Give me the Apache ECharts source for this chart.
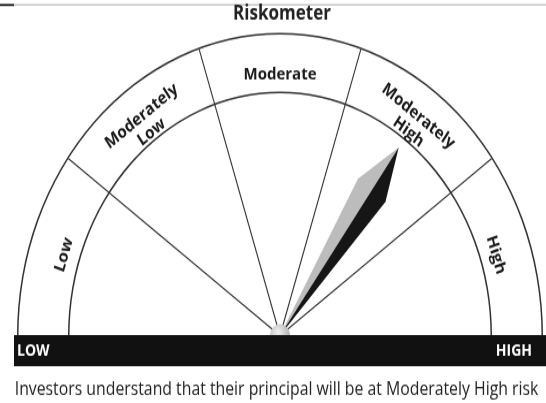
<!DOCTYPE html>
<html>
<head>
<meta charset="utf-8">
<script src="https://cdn.jsdelivr.net/npm/echarts@6/dist/echarts.min.js"></script>
<style>
  html, body { margin: 0; padding: 0; background: #fff; overflow: hidden; }
  /* the source picture is stretched vertically, so draw flat and stretch */
  #wrap { width: 546px; height: 403px; overflow: hidden; }
  #main { width: 546px; height: 350px; transform: scaleY(1.1514); transform-origin: 0 0; }
</style>
</head>
<body>
<div id="wrap"><div id="main"></div></div>
<script>
// risk bands, left to right
const segments = ['Low', 'Moderately\nLow', 'Moderate', 'Moderately\nHigh', 'High'];
// needle position on the 0..5 scale (middle of "Moderately High")
const riskValue = [3.5];
const endLabels = ['LOW', 'HIGH'];
const titleText = 'Riskometer';
const noteText = 'Investors understand that their principal will be at Moderately High risk';

const cx = 280, cy = 291.5;
const font = '"Open Sans", "DejaVu Sans", sans-serif';

let chartDom = document.getElementById('main');
let myChart = echarts.init(chartDom);

function baseGauge(extra) {
  return Object.assign({
    type: 'gauge',
    center: [cx, cy],
    startAngle: 180,
    endAngle: 0,
    min: 0,
    max: segments.length,
    splitNumber: segments.length,
    axisLine: { show: false, lineStyle: { width: 0 } },
    splitLine: { show: false, length: 0 },
    axisTick: { show: false },
    axisLabel: { show: false },
    pointer: { show: false },
    anchor: { show: false },
    title: { show: false },
    detail: { show: false },
    animation: false,
    silent: true
  }, extra);
}

const grayPath = 'path://M17 0 L0 46 L17 202 Z M34 202 L34 202';
const blackPath = 'path://M17 0 L34 46 L17 202 Z M0 202 L0 202';

let option = {
  backgroundColor: '#fff',
  series: [
    // outer arc + dividers
    baseGauge({
      radius: 263,
      axisLine: { show: true, lineStyle: { width: 1.5, color: [[1, '#333']] } },
      splitLine: { show: true, length: 261.5, distance: 0, lineStyle: { color: '#333', width: 1.1 } },
      data: []
    }),
    // inner arc
    baseGauge({
      radius: 212,
      axisLine: { show: true, lineStyle: { width: 1.5, color: [[1, '#333']] } },
      data: []
    }),
    // band labels, placed halfway between dividers
    baseGauge({
      radius: 237,
      max: segments.length * 2,
      splitNumber: segments.length * 2,
      axisLabel: {
        show: true,
        distance: 0,
        rotate: 'tangential',
        color: '#1a1a1a',
        fontFamily: font,
        fontWeight: 'bold',
        fontSize: 15,
        lineHeight: 17,
        formatter: function (v) {
          let i = Math.round(v);
          return i % 2 === 1 ? segments[(i - 1) / 2] : '';
        }
      },
      data: []
    }),
    // needle, light half
    baseGauge({
      radius: 263,
      pointer: { show: true, icon: grayPath, width: 34, length: 202, offsetCenter: [0, 0], itemStyle: { color: '#bcbcbc' } },
      data: riskValue.map(v => ({ value: v }))
    }),
    // needle, dark half + knob
    baseGauge({
      radius: 263,
      pointer: { show: true, icon: blackPath, width: 34, length: 202, offsetCenter: [0, 0], itemStyle: { color: '#161616' } },
      anchor: {
        show: true, showAbove: true, size: 20,
        itemStyle: {
          color: new echarts.graphic.RadialGradient(0.4, 0.35, 0.7, [
            { offset: 0, color: '#f2f2f2' },
            { offset: 1, color: '#a8a8a8' }
          ])
        }
      },
      data: riskValue.map(v => ({ value: v }))
    })
  ],
  graphic: [
    // crop marks at the very top
    { type: 'rect', z: 100, shape: { x: 0, y: 3.4, width: 14, height: 1.8 }, style: { fill: '#111' } },
    { type: 'rect', z: 100, shape: { x: 14, y: 3.5, width: 532, height: 1.2 }, style: { fill: '#bbb' } },
    {
      type: 'text', z: 100,
      style: { text: titleText, x: 282, y: 12.5, align: 'center', verticalAlign: 'middle', textAlign: 'center', textVerticalAlign: 'middle',
        font: 'bold 17px ' + font, fill: '#222' }
    },
    // base bar
    { type: 'rect', z: 100, shape: { x: 14, y: 291, width: 532, height: 27 }, style: { fill: '#111' } },
    {
      type: 'text', z: 101,
      style: { text: endLabels[0], x: 17, y: 305, align: 'left', verticalAlign: 'middle', textAlign: 'left', textVerticalAlign: 'middle',
        font: 'bold 14px ' + font, fill: '#fff' }
    },
    {
      type: 'text', z: 101,
      style: { text: endLabels[1], x: 532, y: 305, align: 'right', verticalAlign: 'middle', textAlign: 'right', textVerticalAlign: 'middle',
        font: 'bold 14px ' + font, fill: '#fff' }
    },
    {
      type: 'text', z: 100,
      style: { text: noteText, x: 276.5, y: 338.5, align: 'center', verticalAlign: 'middle', textAlign: 'center', textVerticalAlign: 'middle',
        font: '15.8px ' + font, fill: '#222' }
    }
  ]
};

option && myChart.setOption(option);
</script>
</body>
</html>
